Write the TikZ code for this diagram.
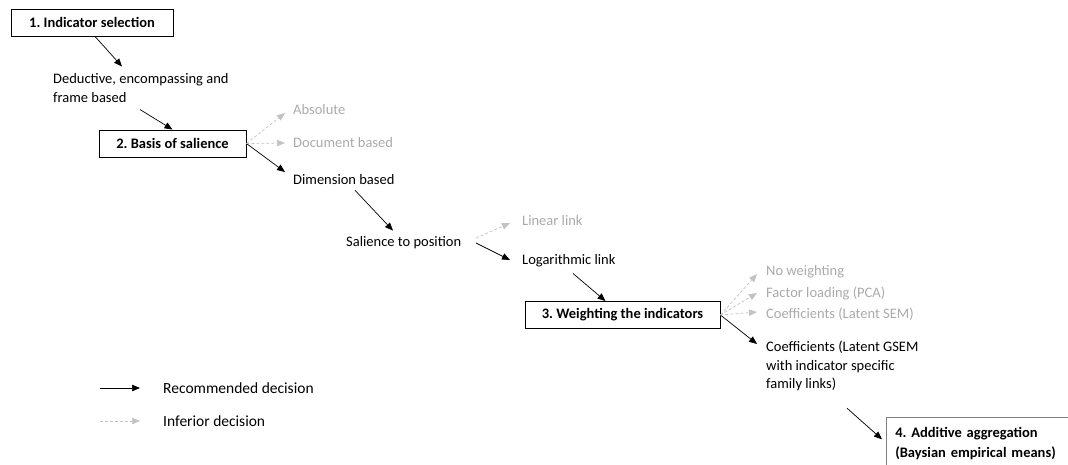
\documentclass[tikz,border=0pt]{standalone}
\usepackage{fontspec}
\setmainfont{Carlito}
\usepackage{tikz}
\usetikzlibrary{arrows.meta,positioning}
\definecolor{infgray}{RGB}{170,170,170}
\definecolor{dashgray}{RGB}{195,195,195}
\frenchspacing

\begin{document}
\begin{tikzpicture}[
    x=1pt, y=-1pt,
    font=\fontsize{14.5}{18.5}\selectfont,
    stage/.style={rectangle, draw, line width=0.9pt, font=\fontsize{14.5}{20}\selectfont\bfseries, minimum height=27pt},
    choice/.style={anchor=west, inner sep=1pt, align=left},
    weak/.style={choice, text=infgray},
    rec/.style={-{Triangle[length=8pt,width=6.5pt]}, line width=0.7pt},
    inf/.style={-{Triangle[length=8pt,width=6.5pt]}, line width=0.7pt, dashgray, dash pattern=on 3pt off 2pt}
]
    \useasboundingbox (0,0) rectangle (1068,464);

    % Stages
    \node[stage, minimum width=162pt] (sel) at (92,22.5) {1. Indicator selection};
    \node[stage, minimum width=147pt] (sal) at (172.5,143.5) {2. Basis of salience};
    \node[stage, minimum width=195pt] (wgt) at (622.5,315) {3. Weighting the indicators};
    \node[stage, draw=gray, line width=0.6pt, anchor=north west, align=left, text width=200pt, minimum height=52pt, inner xsep=9pt] (agg) at (886,417) {4. Additive aggregation\\(Baysian empirical means)};

    % Decisions
    \node[choice] (ded) at (52,88) {Deductive, encompassing and\\frame based};
    \node[weak] (abs) at (292,110) {Absolute};
    \node[weak] (doc) at (292,143) {Document based};
    \node[choice] (dim) at (292,180) {Dimension based};
    \node[choice] (pos) at (345,243) {Salience to position};
    \node[weak] (lin) at (521,221) {Linear link};
    \node[choice] (log) at (521,261) {Logarithmic link};
    \node[weak] (now) at (765,272) {No weighting};
    \node[weak] (pca) at (765,293) {Factor loading (PCA)};
    \node[weak] (sem) at (765,314) {Coefficients (Latent SEM)};
    \node[choice] (gsem) at (765,366) {Coefficients (Latent GSEM\\with indicator specific\\family links)};

    % Recommended path
    \draw[rec] ([xshift=3pt]sel.south) -- ([xshift=70pt,yshift=6pt]ded.north west);
    \draw[rec] ([xshift=88pt,yshift=-6pt]ded.south west) -- (sal.north);
    \draw[rec] (sal.east) -- ([xshift=-7pt,yshift=8pt]dim.west);
    \draw[rec] ([xshift=63pt,yshift=-4pt]dim.south west) -- ([xshift=48pt,yshift=5pt]pos.north west);
    \draw[rec] ([xshift=131pt]pos.west) -- ([xshift=-11pt,yshift=1pt]log.west);
    \draw[rec] ([xshift=52pt,yshift=-5pt]log.south west) -- ([xshift=-17pt]wgt.north);
    \draw[rec] (wgt.east) -- ([xshift=-8pt,yshift=22pt]gsem.west);
    \draw[rec] ([xshift=82pt,yshift=-16pt]gsem.south west) -- ([xshift=-4pt,yshift=4pt]agg.west);

    % Inferior choices
    \draw[inf] (sal.east) -- ([xshift=-7pt,yshift=-3pt]abs.west);
    \draw[inf] (sal.east) -- ([xshift=-7pt]doc.west);
    \draw[inf] ([xshift=131pt,yshift=5pt]pos.west) -- ([xshift=-11pt,yshift=-2pt]lin.west);
    \draw[inf] (wgt.east) -- ([xshift=-8pt,yshift=-2pt]now.west);
    \draw[inf] (wgt.east) -- ([xshift=-8pt]pca.west);
    \draw[inf] (wgt.east) -- ([xshift=-8pt,yshift=2pt]sem.west);

    % Legend
    \coordinate (krec) at (100,388);
    \coordinate (kinf) at (100,421);
    \node[choice, font=\fontsize{15.5}{19}\selectfont] (lrec) at (162,388) {Recommended decision};
    \node[choice, font=\fontsize{15.5}{19}\selectfont] (linf) at (162,421) {Inferior decision};
    \draw[rec] (krec) -- ([xshift=-22pt]lrec.west);
    \draw[inf] (kinf) -- ([xshift=-22pt]linf.west);
\end{tikzpicture}
\end{document}
